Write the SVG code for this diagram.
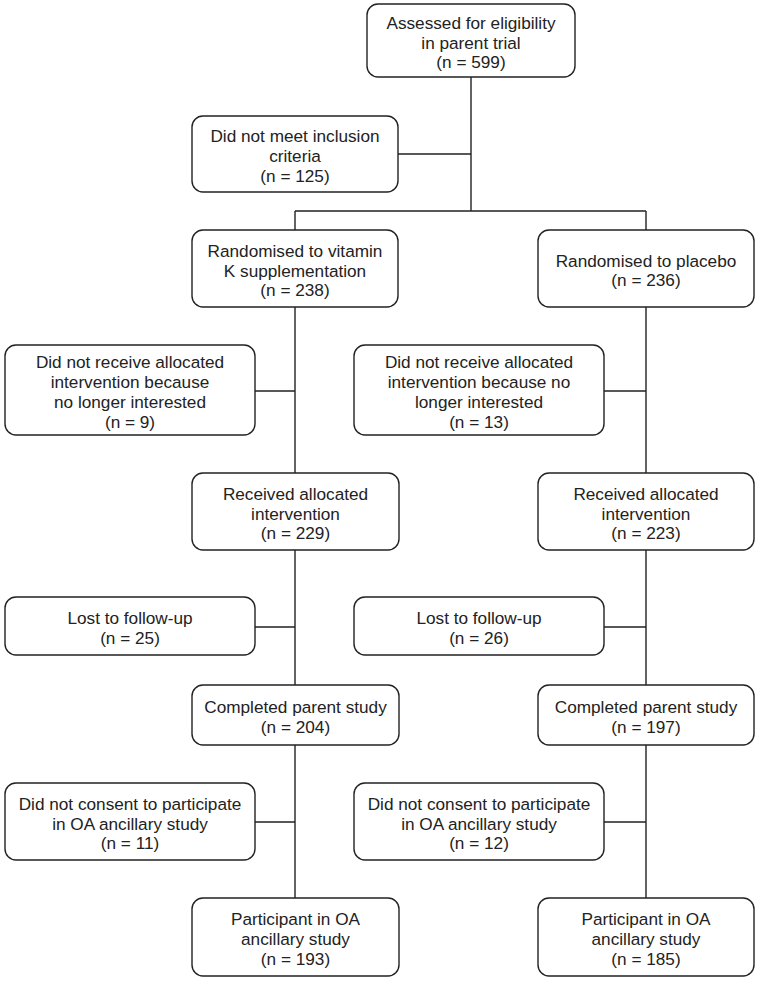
<svg xmlns="http://www.w3.org/2000/svg" width="762" height="984" viewBox="0 0 762 984">
<style>
.b{fill:#fff;stroke:#222;stroke-width:1.4}
.t{font-family:"Liberation Sans",Arial,sans-serif;font-size:17.2px;fill:#222;text-anchor:middle}
.c{stroke:#222;stroke-width:1.4;fill:none}
</style>
<rect width="762" height="984" fill="#fff"/>
<g id="connectors">
<path class="c" d="M471 77V211M398 154H471M295 211H646M295 211V230M646 211V230"/>
<path class="c" d="M295 307V473M295 550V685M295 745V898M255 391H295M255 627H295M255 822H295"/>
<path class="c" d="M646 307V473M646 550V685M646 745V898M604 391H646M604 627H646M604 822H646"/>
</g>
<g id="n1"><rect class="b" x="367" y="4" width="208" height="73" rx="11"/>
<text class="t" x="471" y="28.8">Assessed for eligibility</text><text class="t" x="471" y="48.5">in parent trial</text><text class="t" x="471" y="68.2">(n = 599)</text></g>
<g id="n2"><rect class="b" x="192" y="116" width="206" height="76" rx="11"/>
<text class="t" x="295" y="142.3">Did not meet inclusion</text><text class="t" x="295" y="162">criteria</text><text class="t" x="295" y="181.7">(n = 125)</text></g>
<g id="n3"><rect class="b" x="192" y="230" width="206" height="77" rx="11"/>
<text class="t" x="295" y="256.8">Randomised to vitamin</text><text class="t" x="295" y="276.5">K supplementation</text><text class="t" x="295" y="296.2">(n = 238)</text></g>
<g id="n4"><rect class="b" x="538" y="230" width="216" height="77" rx="11"/>
<text class="t" x="646" y="266.6">Randomised to placebo</text><text class="t" x="646" y="286.3">(n = 236)</text></g>
<g id="n5"><rect class="b" x="5" y="345" width="250" height="90" rx="11"/>
<text class="t" x="130" y="368.4">Did not receive allocated</text><text class="t" x="130" y="388.1">intervention because</text><text class="t" x="130" y="407.8">no longer interested</text><text class="t" x="130" y="427.5">(n = 9)</text></g>
<g id="n6"><rect class="b" x="354" y="345" width="250" height="90" rx="11"/>
<text class="t" x="479" y="368.4">Did not receive allocated</text><text class="t" x="479" y="388.1">intervention because no</text><text class="t" x="479" y="407.8">longer interested</text><text class="t" x="479" y="427.5">(n = 13)</text></g>
<g id="n7"><rect class="b" x="192" y="473" width="207" height="77" rx="11"/>
<text class="t" x="295.5" y="499.8">Received allocated</text><text class="t" x="295.5" y="519.5">intervention</text><text class="t" x="295.5" y="539.2">(n = 229)</text></g>
<g id="n8"><rect class="b" x="538" y="473" width="216" height="77" rx="11"/>
<text class="t" x="646" y="499.8">Received allocated</text><text class="t" x="646" y="519.5">intervention</text><text class="t" x="646" y="539.2">(n = 223)</text></g>
<g id="n9"><rect class="b" x="5" y="597" width="250" height="58" rx="11"/>
<text class="t" x="130" y="624.2">Lost to follow-up</text><text class="t" x="130" y="643.9">(n = 25)</text></g>
<g id="n10"><rect class="b" x="354" y="597" width="250" height="58" rx="11"/>
<text class="t" x="479" y="624.2">Lost to follow-up</text><text class="t" x="479" y="643.9">(n = 26)</text></g>
<g id="n11"><rect class="b" x="192" y="685" width="207" height="60" rx="11"/>
<text class="t" x="295.5" y="713.2">Completed parent study</text><text class="t" x="295.5" y="732.9">(n = 204)</text></g>
<g id="n12"><rect class="b" x="538" y="685" width="216" height="60" rx="11"/>
<text class="t" x="646" y="713.2">Completed parent study</text><text class="t" x="646" y="732.9">(n = 197)</text></g>
<g id="n13"><rect class="b" x="5" y="783" width="250" height="77" rx="11"/>
<text class="t" x="130" y="809.8">Did not consent to participate</text><text class="t" x="130" y="829.5">in OA ancillary study</text><text class="t" x="130" y="849.2">(n = 11)</text></g>
<g id="n14"><rect class="b" x="354" y="783" width="250" height="77" rx="11"/>
<text class="t" x="479" y="809.8">Did not consent to participate</text><text class="t" x="479" y="829.5">in OA ancillary study</text><text class="t" x="479" y="849.2">(n = 12)</text></g>
<g id="n15"><rect class="b" x="192" y="898" width="207" height="78" rx="11"/>
<text class="t" x="295.5" y="925.3">Participant in OA</text><text class="t" x="295.5" y="945">ancillary study</text><text class="t" x="295.5" y="964.7">(n = 193)</text></g>
<g id="n16"><rect class="b" x="538" y="898" width="216" height="78" rx="11"/>
<text class="t" x="646" y="925.3">Participant in OA</text><text class="t" x="646" y="945">ancillary study</text><text class="t" x="646" y="964.7">(n = 185)</text></g>
</svg>
